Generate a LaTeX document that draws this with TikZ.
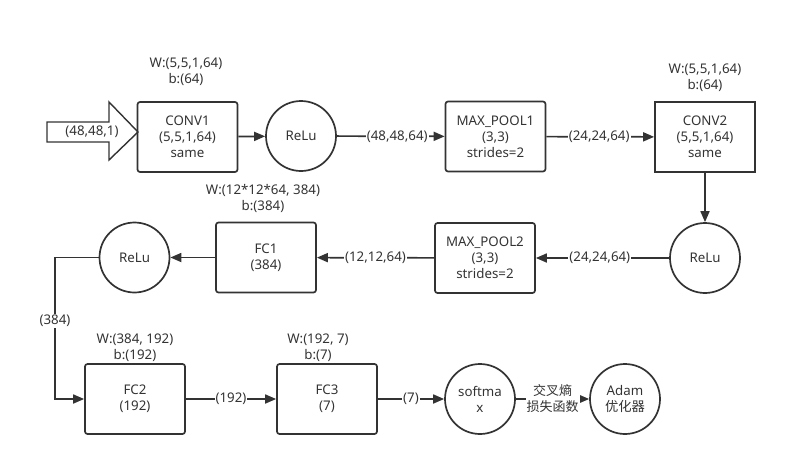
\documentclass[tikz,border=0pt]{standalone}
\usepackage{fontspec}
\setmainfont{Noto Sans}
\newfontfamily\cjk{Noto Sans CJK SC}
\usetikzlibrary{arrows.meta}
\definecolor{ink}{HTML}{333333}
\tikzset{
  every node/.style={font=\fontsize{13.3}{16}\selectfont, text=ink},
  box/.style={draw=ink, line width=1.7pt, rounded corners=2.5pt, minimum width=100pt, minimum height=70pt, align=center, inner sep=0pt},
  sharpbox/.style={box, rounded corners=0pt},
  circ/.style={draw=ink, line width=1.7pt, circle, minimum size=70pt, align=center, inner sep=0pt},
  conn/.style={draw=ink, line width=1.7pt, -{Triangle[length=11pt,width=9pt]}},
  lbl/.style={fill=white, inner sep=1pt},
  wlbl/.style={align=center, inner sep=0pt}
}
\begin{document}
\begin{tikzpicture}[x=1pt,y=-1pt]
\useasboundingbox (0,0) rectangle (795,466);
% input arrow
\draw[ink, line width=1.4pt, fill=white] (47,122) -- (109,122) -- (109,102) -- (138,132) -- (109,160) -- (109,142) -- (47,142) -- cycle;
\node at (92,132) {(48,48,1)};
% row 1
\node[box] (conv1) at (187.5,137) {CONV1\\(5,5,1,64)\\same};
\node[wlbl] (w1) at (186,72) {W:(5,5,1,64)\\b:(64)};
\node[circ] (relu1) at (301,136) {ReLu};
\node[box] (mp1) at (495.5,136.5) {MAX\_POOL1\\(3,3)\\strides=2};
\node[sharpbox] (conv2) at (705,137) {CONV2\\(5,5,1,64)\\same};
\node[wlbl] (w2) at (705,78) {W:(5,5,1,64)\\b:(64)};
% row 2
\node[circ] (relu2) at (705,258) {ReLu};
\node[box] (mp2) at (485,258) {MAX\_POOL2\\(3,3)\\strides=2};
\node[box] (fc1) at (266,257.5) {FC1\\(384)};
\node[wlbl] (w3) at (263,198.5) {W:(12*12*64, 384)\\b:(384)};
\node[circ] (relu3) at (134.5,257.5) {ReLu};
% row 3
\node[box] (fc2) at (135,399) {FC2\\(192)};
\node[wlbl] (w4) at (135,347.5) {W:(384, 192)\\b:(192)};
\node[box] (fc3) at (327,399) {FC3\\(7)};
\node[wlbl] (w5) at (318,347.5) {W:(192, 7)\\b:(7)};
\node[circ] (soft) at (480,399) {softma\\x};
\node[circ] (adam) at (625,399) {Adam\\{\cjk 优化器}};
% connectors
\draw[conn] (conv1) -- (relu1);
\draw[conn] (relu1) -- node[lbl, pos=0.56] {(48,48,64)} (mp1);
\draw[conn] (mp1) -- node[lbl, pos=0.49] {(24,24,64)} (conv2);
\draw[conn] (conv2) -- (relu2);
\draw[conn] (relu2) -- node[lbl, pos=0.52] {(24,24,64)} (mp2);
\draw[conn] (mp2) -- node[lbl, pos=0.5] {(12,12,64)} (fc1);
\draw[conn] (fc1) -- (relu3);
\coordinate (c1) at (55,257.5);
\coordinate (c2) at (55,399);
\draw[conn] (relu3.west) -- (c1) -- node[lbl, pos=0.45] {(384)} (c2) -- (fc2.west);
\draw[conn] (fc2) -- node[lbl, pos=0.5] {(192)} (fc3);
\draw[conn] (fc3) -- node[lbl, pos=0.5] {(7)} (soft);
\draw[conn] (soft) -- node[lbl, pos=0.5, align=center, font=\cjk\fontsize{13}{16}\selectfont] {交叉熵\\损失函数} (adam);
\end{tikzpicture}
\end{document}
